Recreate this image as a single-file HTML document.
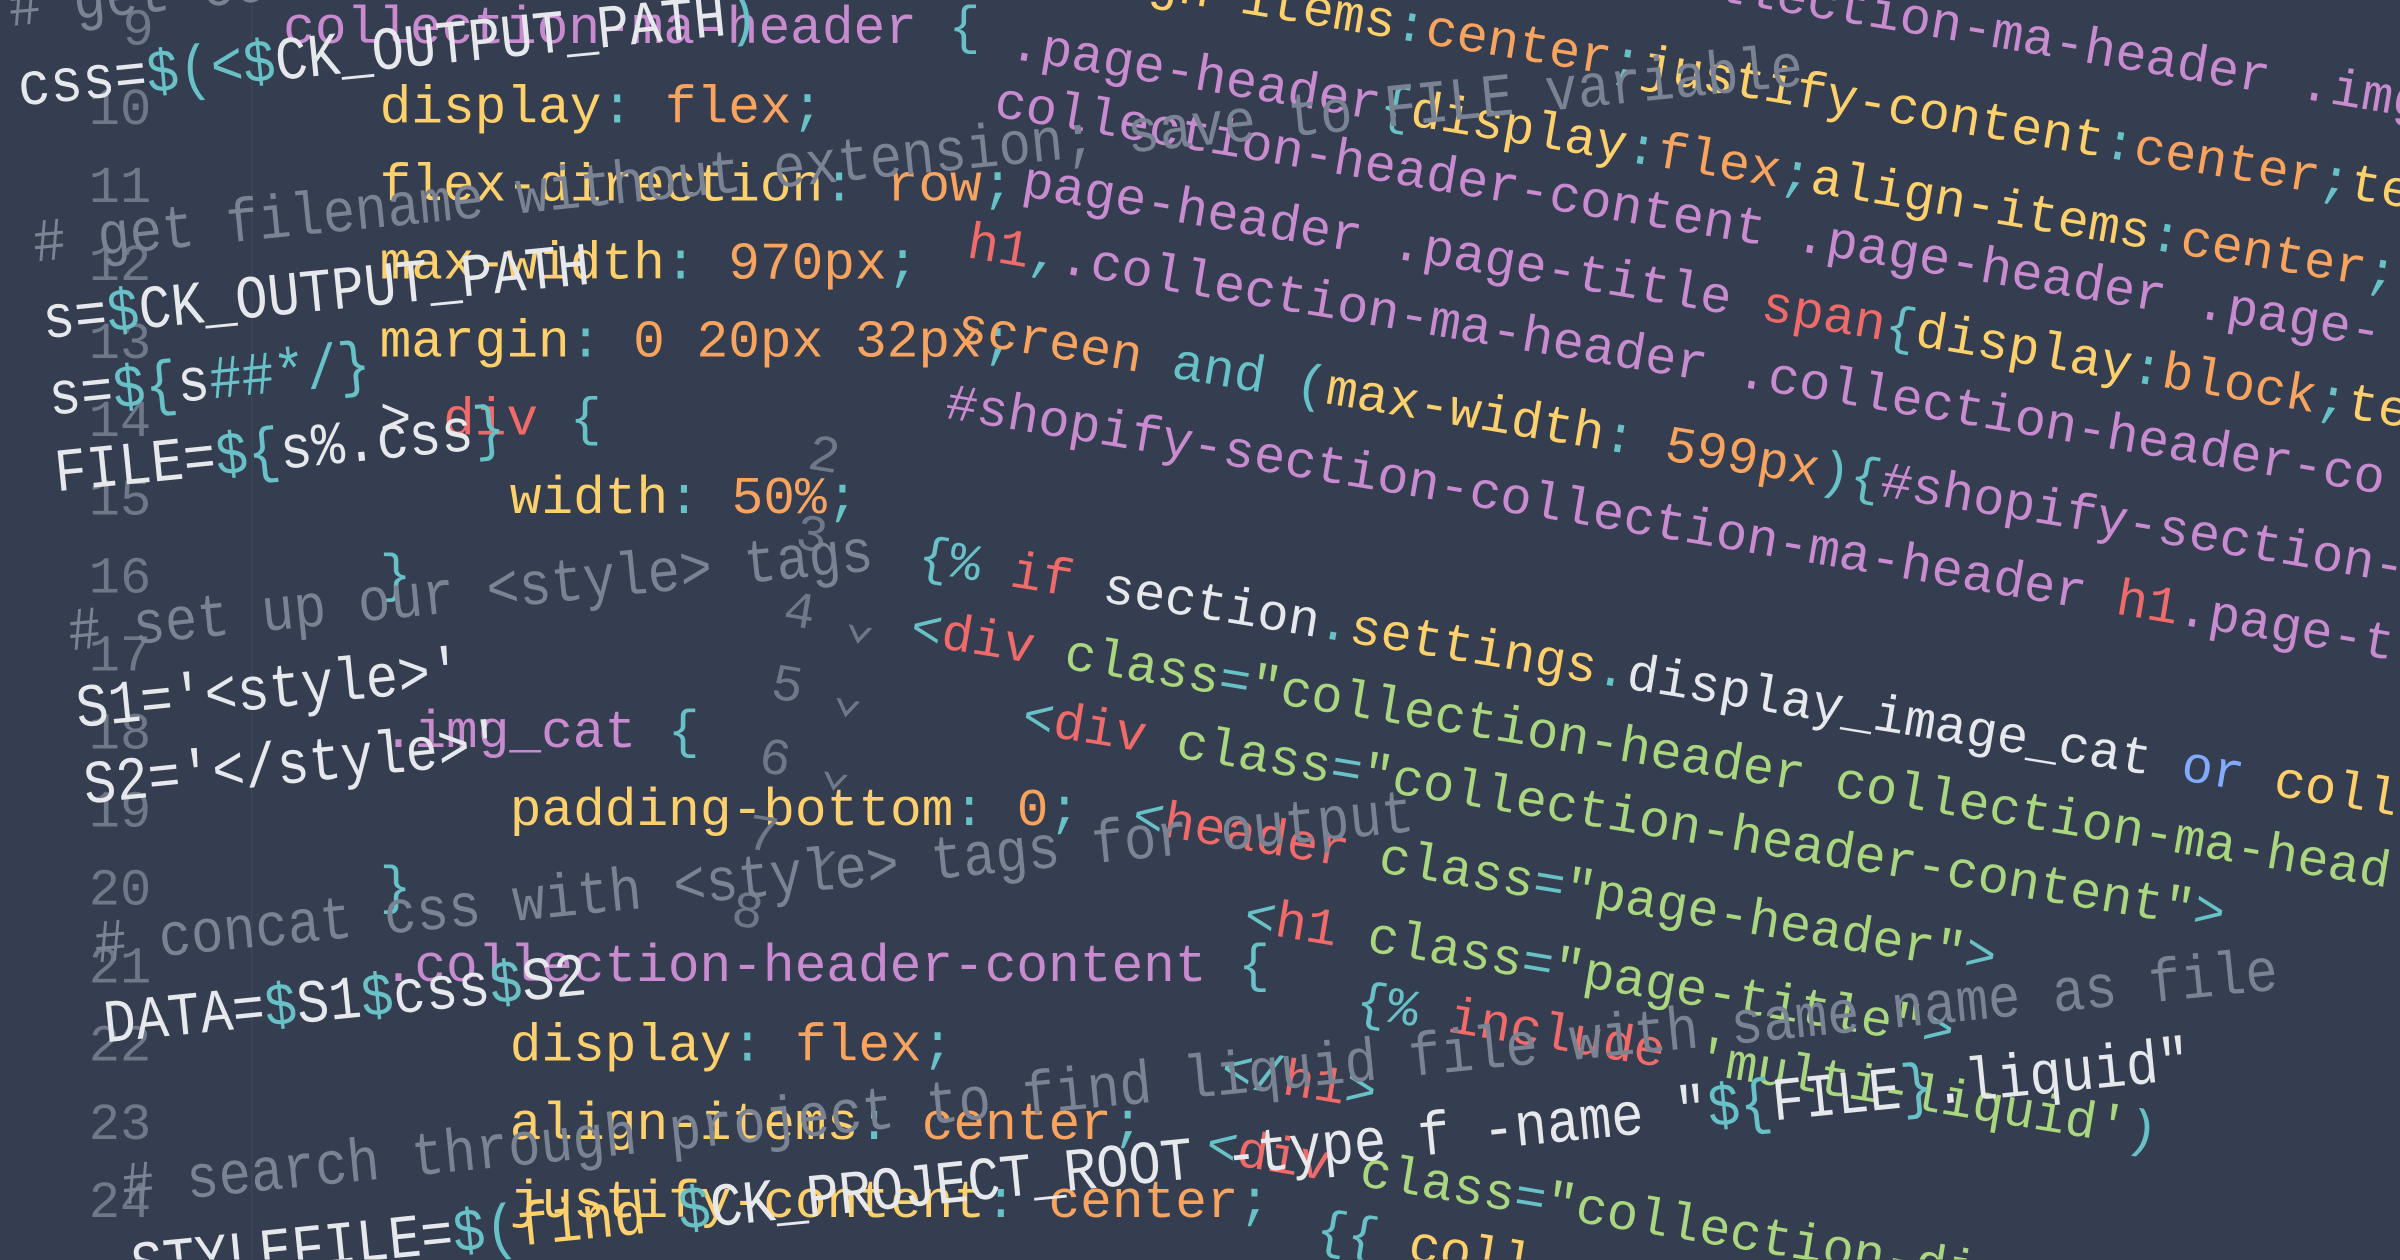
<!DOCTYPE html>
<html><head><meta charset="utf-8"><style>
html,body{margin:0;padding:0;}
body{width:2400px;height:1260px;overflow:hidden;background:#343e50;}
#stage{position:absolute;left:0;top:0;width:1568px;height:823px;transform:scale(1.5306);transform-origin:0 0;overflow:hidden;background:#343e50;}
.layer{position:absolute;white-space:pre;font-family:"Liberation Mono","DejaVu Sans Mono",monospace;}
.ln{position:absolute;color:#6e7888;font-size:34px;font-family:"Liberation Mono",monospace;}
.l{position:absolute;white-space:pre;}
.rl{position:absolute;white-space:pre;font-family:"Liberation Mono","DejaVu Sans Mono",monospace;line-height:40px;height:40px;transform-origin:0 50%;}
.bash{font-size:40px;transform:rotate(-5.7deg) scaleX(0.88);}
.liq{font-size:34px;transform:rotate(9.4deg);}
.min{font-size:34px;transform:rotate(9.5deg);}
.y{color:#fdd06b}.o{color:#f8a35e}.p{color:#c98bd0}.c{color:#67c1c6}.g{color:#7a8393}.w{color:#e6e8ec}.r{color:#f06a6a}.gr{color:#a9d67f}.b{color:#82aaff}.n{color:#6e7888}
</style></head><body>
<div id="stage">
<div style="position:absolute;left:164px;top:0;width:1px;height:823px;background:#3d4759"></div>

<!-- straight css layer -->
<div class="layer" style="left:0;top:0;font-size:34.5px;">
<div class="ln" style="left:80px;top:2px">9</div>
<div class="ln" style="left:58px;top:54px">10</div>
<div class="ln" style="left:58px;top:105px">11</div>
<div class="ln" style="left:58px;top:156px">12</div>
<div class="ln" style="left:58px;top:207px">13</div>
<div class="ln" style="left:58px;top:258px">14</div>
<div class="ln" style="left:58px;top:309px">15</div>
<div class="ln" style="left:58px;top:360px">16</div>
<div class="ln" style="left:58px;top:411px">17</div>
<div class="ln" style="left:58px;top:462px">18</div>
<div class="ln" style="left:58px;top:513px">19</div>
<div class="ln" style="left:58px;top:564px">20</div>
<div class="ln" style="left:58px;top:615px">21</div>
<div class="ln" style="left:58px;top:666px">22</div>
<div class="ln" style="left:58px;top:717px">23</div>
<div class="ln" style="left:58px;top:768px">24</div>
<div class="l" style="left:185px;top:0px"><span class="p">collection-ma-header</span> <span class="c">{</span></div>
<div class="l" style="left:248px;top:52px"><span class="y">display</span><span class="c">:</span> <span class="o">flex</span><span class="c">;</span></div>
<div class="l" style="left:248px;top:103px"><span class="y">flex-direction</span><span class="c">:</span> <span class="o">row</span><span class="c">;</span></div>
<div class="l" style="left:248px;top:154px"><span class="y">max-width</span><span class="c">:</span> <span class="o">970px</span><span class="c">;</span></div>
<div class="l" style="left:248px;top:205px"><span class="y">margin</span><span class="c">:</span> <span class="o">0 20px 32px</span><span class="c">;</span></div>
<div class="l" style="left:248px;top:256px"><span class="w">&gt;</span> <span class="r">div</span> <span class="c">{</span></div>
<div class="l" style="left:333px;top:307px"><span class="y">width</span><span class="c">:</span> <span class="o">50%</span><span class="c">;</span></div>
<div class="l" style="left:248px;top:358px"><span class="c">}</span></div>
<div class="l" style="left:250px;top:460px"><span class="p">.img_cat</span> <span class="c">{</span></div>
<div class="l" style="left:333px;top:511px"><span class="y">padding-bottom</span><span class="c">:</span> <span class="o">0</span><span class="c">;</span></div>
<div class="l" style="left:248px;top:562px"><span class="c">}</span></div>
<div class="l" style="left:250px;top:613px"><span class="p">.collection-header-content</span> <span class="c">{</span></div>
<div class="l" style="left:333px;top:665px"><span class="y">display</span><span class="c">:</span> <span class="o">flex</span><span class="c">;</span></div>
<div class="l" style="left:333px;top:716px"><span class="y">align-items</span><span class="c">:</span> <span class="o">center</span><span class="c">;</span></div>
<div class="l" style="left:333px;top:767px"><span class="y">justify-content</span><span class="c">:</span> <span class="o">center</span><span class="c">;</span></div>
</div>

<!-- minified css layer -->
<div>
<div class="rl min" style="left:1060px;top:-38px"><span class="p">.collection-ma-header .img_cat</span><span class="c">{</span><span class="y">pa</span></div>
<div class="rl min" style="left:690px;top:-40px"><span class="y">align-items</span><span class="c">:</span><span class="o">center</span><span class="c">;</span><span class="y">justify-content</span><span class="c">:</span><span class="o">center</span><span class="c">;</span><span class="y">tex</span></div>
<div class="rl min" style="left:660px;top:10px"><span class="p">.page-header</span><span class="c">{</span><span class="y">display</span><span class="c">:</span><span class="o">flex</span><span class="c">;</span><span class="y">align-items</span><span class="c">:</span><span class="o">center</span><span class="c">;</span></div>
<div class="rl min" style="left:650px;top:48px"><span class="p">collection-header-content .page-header .page-</span></div>
<div class="rl min" style="left:668px;top:100px"><span class="p">page-header .page-title </span><span class="r">span</span><span class="c">{</span><span class="y">display</span><span class="c">:</span><span class="o">block</span><span class="c">;</span><span class="y">tex</span></div>
<div class="rl min" style="left:632px;top:140px"><span class="r">h1</span><span class="c">,</span><span class="p">.collection-ma-header .collection-header-co</span></div>
<div class="rl min" style="left:625px;top:195px"><span class="o">screen</span> <span class="c">and</span> <span class="c">(</span><span class="y">max-width</span><span class="c">:</span> <span class="o">599px</span><span class="c">){</span><span class="p">#shopify-section-</span></div>
<div class="rl min" style="left:618px;top:245px"><span class="p">#shopify-section-collection-ma-header </span><span class="r">h1</span><span class="p">.page-t</span></div>
</div>

<!-- liquid layer -->
<div>
<div class="rl liq" style="left:528px;top:278px"><span class="n">2</span></div>
<div class="rl liq" style="left:520px;top:330px"><span class="n">3</span></div>
<div class="rl liq" style="left:600px;top:345px"><span class="c">{%</span> <span class="r">if</span> <span class="w">section</span><span class="c">.</span><span class="y">settings</span><span class="c">.</span><span class="w">display_image_cat</span> <span class="b">or</span> <span class="y">coll</span></div>
<div class="rl liq" style="left:512px;top:380px"><span class="n">4 ⌄</span></div>
<div class="rl liq" style="left:595px;top:392px"><span class="c">&lt;</span><span class="r">div</span> <span class="gr">class</span><span class="c">=</span><span class="gr">"collection-header collection-ma-head</span></div>
<div class="rl liq" style="left:504px;top:428px"><span class="n">5 ⌄</span></div>
<div class="rl liq" style="left:668px;top:450px"><span class="c">&lt;</span><span class="r">div</span> <span class="gr">class</span><span class="c">=</span><span class="gr">"collection-header-content"</span><span class="c">&gt;</span></div>
<div class="rl liq" style="left:496px;top:476px"><span class="n">6 ⌄</span></div>
<div class="rl liq" style="left:740px;top:515px"><span class="c">&lt;</span><span class="r">header</span> <span class="gr">class</span><span class="c">=</span><span class="gr">"page-header"</span><span class="c">&gt;</span></div>
<div class="rl liq" style="left:488px;top:526px"><span class="n">7 ⌄</span></div>
<div class="rl liq" style="left:813px;top:580px"><span class="c">&lt;</span><span class="r">h1</span> <span class="gr">class</span><span class="c">=</span><span class="gr">"page-title"</span><span class="c">&gt;</span></div>
<div class="rl liq" style="left:478px;top:576px"><span class="n">8</span></div>
<div class="rl liq" style="left:886px;top:636px"><span class="c">{%</span> <span class="r">include</span> <span class="gr">'multi-liquid'</span><span class="c">)</span></div>
<div class="rl liq" style="left:798px;top:680px"><span class="c">&lt;/</span><span class="r">h1</span><span class="c">&gt;</span></div>
<div class="rl liq" style="left:788px;top:730px"><span class="c">&lt;</span><span class="r">div</span> <span class="gr">class</span><span class="c">=</span><span class="gr">"collection-din</span></div>
<div class="rl liq" style="left:860px;top:785px"><span class="c">{{</span> <span class="y">coll</span></div>
</div>

<!-- bash layer -->
<div>
<div class="rl bash" style="left:6px;top:-12px"><span class="g"># get contents of css file</span></div>
<div class="rl bash" style="left:12px;top:40px"><span class="w">css=</span><span class="c">$(&lt;$</span><span class="w">CK_OUTPUT_PATH</span><span class="c">)</span></div>
<div class="rl bash" style="left:22px;top:142px"><span class="g"># get filename without extension; save to FILE variable</span></div>
<div class="rl bash" style="left:28px;top:192px"><span class="w">s=</span><span class="c">$</span><span class="w">CK_OUTPUT_PATH</span></div>
<div class="rl bash" style="left:32px;top:242px"><span class="w">s=</span><span class="c">${</span><span class="w">s</span><span class="c">##*/}</span></div>
<div class="rl bash" style="left:36px;top:292px"><span class="w">FILE=</span><span class="c">${</span><span class="w">s%.css</span><span class="c">}</span></div>
<div class="rl bash" style="left:45px;top:396px"><span class="g"># set up our &lt;style&gt; tags</span></div>
<div class="rl bash" style="left:50px;top:446px"><span class="w">S1='&lt;style&gt;'</span></div>
<div class="rl bash" style="left:55px;top:496px"><span class="w">S2='&lt;/style&gt;'</span></div>
<div class="rl bash" style="left:62px;top:600px"><span class="g"># concat css with &lt;style&gt; tags for output</span></div>
<div class="rl bash" style="left:68px;top:652px"><span class="w">DATA=</span><span class="c">$</span><span class="w">S1</span><span class="c">$</span><span class="w">css</span><span class="c">$</span><span class="w">S2</span></div>
<div class="rl bash" style="left:80px;top:758px"><span class="g"># search through project to find liquid file with same name as file</span></div>
<div class="rl bash" style="left:86px;top:810px"><span class="w">STYLEFILE=</span><span class="c">$(</span><span class="y">find</span> <span class="c">$</span><span class="w">CK_PROJECT_ROOT -type f -name "</span><span class="c">${</span><span class="w">FILE</span><span class="c">}</span><span class="w">.liquid"</span></div>
</div>
</div>
</body></html>
